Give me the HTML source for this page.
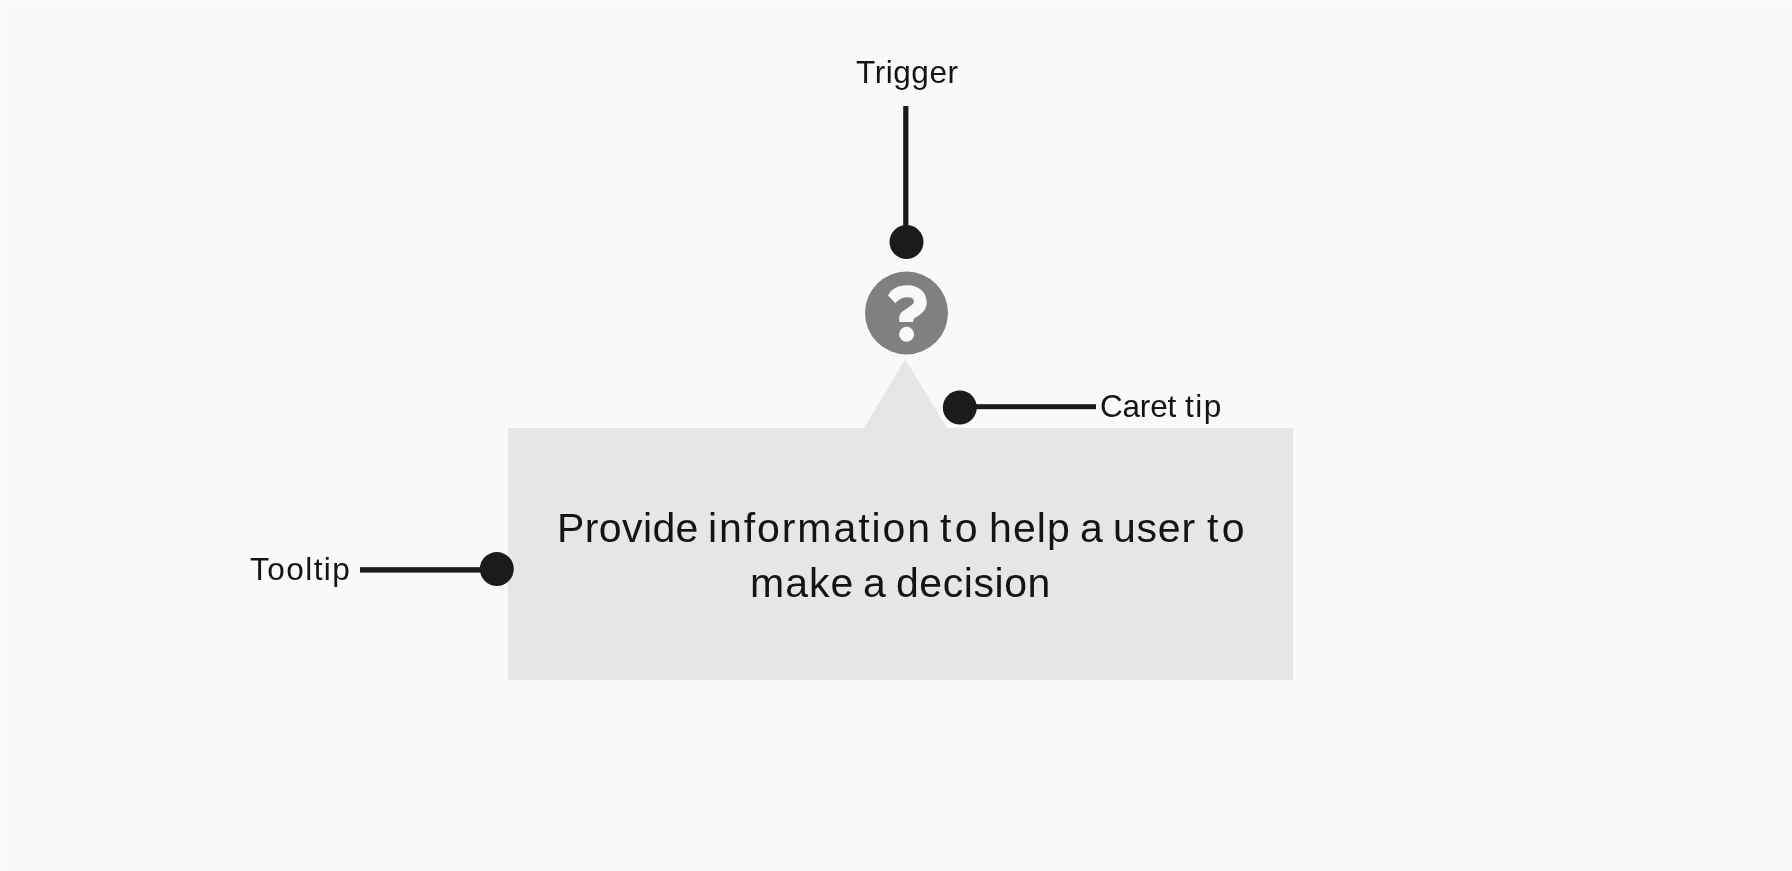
<!DOCTYPE html>
<html><head><meta charset="utf-8">
<style>
html,body{margin:0;padding:0;}
body{width:1792px;height:871px;background:#f8f9fb;position:relative;overflow:hidden;font-family:"Liberation Sans",sans-serif;color:#141414;}
.lbl{position:absolute;will-change:transform;white-space:nowrap;font-size:31.5px;line-height:31.5px;}
.box{position:absolute;left:508px;top:428px;width:785px;height:252px;background:#e6e6e6;}
.txt{position:absolute;will-change:transform;white-space:nowrap;font-size:41px;line-height:41px;}
svg{position:absolute;left:0;top:0;}
</style></head>
<body>
<div style="position:absolute;left:0;top:0;width:1792px;height:1px;background:#fdfdfe"></div>
<div style="position:absolute;left:0;top:0;width:1px;height:871px;background:#fcfcfd"></div>
<div class="box"></div>
<svg width="1792" height="871" viewBox="0 0 1792 871">
  <polygon points="905.2,359.3 864,428 947,428" fill="#e6e6e6"/>
  <circle cx="906.5" cy="313" r="41.5" fill="#808080"/>
  <path d="M888,295.6 C891,289 898,285.3 907,285.3 C919,285.3 926.7,292 926.7,302.7 C926.7,310 921,314.5 914,318.5 L912.9,321.9 L899.3,321.9 L899.3,316.5 C900,313.5 901.5,312 904,310.5 L911,305.5 C913,304 913.9,303 913.9,301.5 C913.9,298.5 911,297.2 907.5,297.2 C903.5,297.2 900,298.5 897.5,301 L895.4,303.2 Z" fill="#f8f9fb"/>
  <circle cx="906.6" cy="334.2" r="7.5" fill="#f8f9fb"/>
  <rect x="903.2" y="106" width="5.2" height="136" fill="#1b1b1d"/>
  <circle cx="906.5" cy="242" r="17" fill="#1b1b1d"/>
  <rect x="960" y="404.2" width="136" height="5" fill="#1b1b1d"/>
  <circle cx="959.8" cy="407.5" r="17" fill="#1b1b1d"/>
  <rect x="360" y="567.2" width="137" height="5.4" fill="#1b1b1d"/>
  <circle cx="496.8" cy="569.1" r="17" fill="#1b1b1d"/>
</svg>
<div class="txt" style="left:556.6px;top:507.6px;letter-spacing:0.4px">Provide</div>
<div class="txt" style="left:707.8px;top:507.6px;letter-spacing:1.92px">information</div>
<div class="txt" style="left:939.9px;top:507.6px;letter-spacing:3.4px">to</div>
<div class="txt" style="left:988.8px;top:507.6px;letter-spacing:1.1px">help</div>
<div class="txt" style="left:1080.0px;top:507.6px;letter-spacing:0px">a</div>
<div class="txt" style="left:1113.4px;top:507.6px;letter-spacing:0.767px">user</div>
<div class="txt" style="left:1206.5px;top:507.6px;letter-spacing:3.4px">to</div>
<div class="txt" style="left:749.5px;top:562.7px;letter-spacing:1.033px">make</div>
<div class="txt" style="left:862.8px;top:562.7px;letter-spacing:0px">a</div>
<div class="txt" style="left:896px;top:562.7px;letter-spacing:0.571px">decision</div>
<div class="lbl" style="left:856.4px;top:56.6px;letter-spacing:0.567px">Trigger</div>
<div class="lbl" style="left:1099.8px;top:390.8px;letter-spacing:-0.2px">Caret</div>
<div class="lbl" style="left:1185.4px;top:390.8px;letter-spacing:1.55px">tip</div>
<div class="lbl" style="left:250px;top:554px;letter-spacing:1.467px">Tooltip</div>
</body></html>
